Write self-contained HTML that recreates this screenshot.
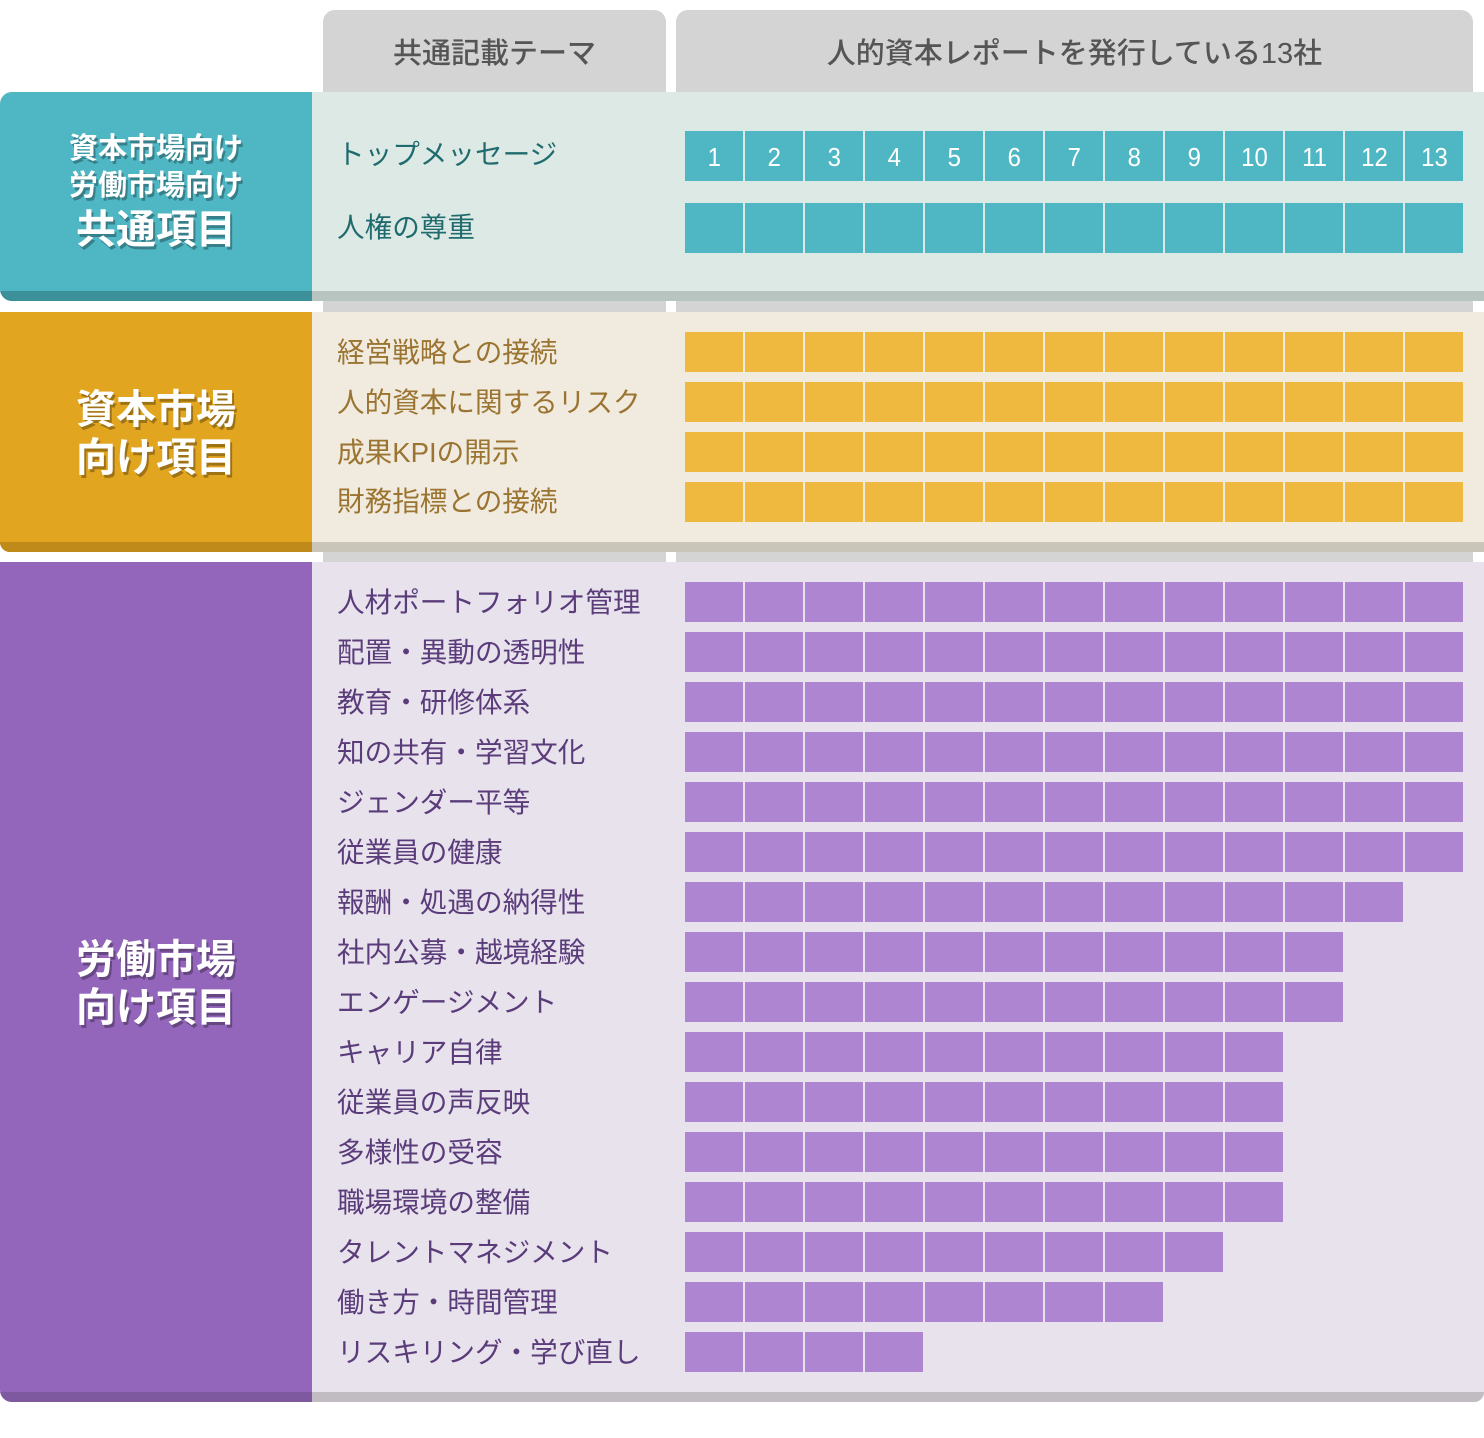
<!DOCTYPE html>
<html><head><meta charset="utf-8"><style>
*{margin:0;padding:0;box-sizing:border-box}
body{width:1484px;height:1438px;background:#fff;position:relative;overflow:hidden;font-family:"Liberation Sans","Noto Sans CJK JP",sans-serif}
.a{position:absolute}
.hd{background:#d4d4d4;border-radius:12px 12px 0 0;color:#555;font-size:29px;display:flex;align-items:center;justify-content:center;font-weight:500}
.strip{background:#d4d4d4}
.lab{position:absolute;left:337px;font-size:27.6px;line-height:40px;white-space:nowrap}
.bar{position:absolute;left:685px;height:40px}
.big{color:#fff;font-weight:bold;text-align:center;text-shadow:2px 3px 0 rgba(0,0,0,0.3);position:absolute;left:0;width:312px}
.num{position:absolute;width:58px;height:50px;top:131px;background:#4fb7c4;color:#fff;font-size:26px;text-align:center;line-height:52px;transform:scaleX(1)}
.num span{display:inline-block;transform:scaleX(0.92)}
</style></head><body>
<div class="a hd" style="left:323px;top:10px;width:343px;height:82px">共通記載テーマ</div>
<div class="a hd" style="left:676px;top:10px;width:797px;height:82px">人的資本レポートを発行している13社</div>
<div class="a strip" style="left:323px;top:300px;width:343px;height:12px"></div>
<div class="a strip" style="left:676px;top:300px;width:797px;height:12px"></div>
<div class="a strip" style="left:323px;top:552px;width:343px;height:10px"></div>
<div class="a strip" style="left:676px;top:552px;width:797px;height:10px"></div>

<div class="a" style="left:0;top:92px;width:1484px;height:209px;background:#dde9e5;border-radius:12px 0 0 12px;overflow:hidden">
 <div class="a" style="left:0;top:0;width:312px;height:209px;background:#4fb7c4"></div>
 <div class="a" style="left:0;top:199px;width:312px;height:10px;background:#3c9099"></div>
 <div class="a" style="left:312px;top:199px;width:1172px;height:10px;background:#b8c4bf"></div>
</div>
<div class="big" style="top:131px;font-size:29px;line-height:37px">資本市場向け<br>労働市場向け</div>
<div class="big" style="top:205px;font-size:40px;line-height:50px">共通項目</div>
<div class="lab" style="top:135px;color:#1f6b6e">トップメッセージ</div>
<div class="lab" style="top:208px;color:#1f6b6e">人権の尊重</div>
<div class="num" style="left:685px"><span>1</span></div><div class="num" style="left:745px"><span>2</span></div><div class="num" style="left:805px"><span>3</span></div><div class="num" style="left:865px"><span>4</span></div><div class="num" style="left:925px"><span>5</span></div><div class="num" style="left:985px"><span>6</span></div><div class="num" style="left:1045px"><span>7</span></div><div class="num" style="left:1105px"><span>8</span></div><div class="num" style="left:1165px"><span>9</span></div><div class="num" style="left:1225px"><span>10</span></div><div class="num" style="left:1285px"><span>11</span></div><div class="num" style="left:1345px"><span>12</span></div><div class="num" style="left:1405px"><span>13</span></div>
<div class="bar" style="top:203px;height:50px;width:778px;background:repeating-linear-gradient(90deg,#4fb7c4 0 58px,#dde9e5 58px 60px)"></div>

<div class="a" style="left:0;top:312px;width:1484px;height:240px;background:#f1ebdf;border-radius:0 0 0 10px;overflow:hidden">
 <div class="a" style="left:0;top:0;width:312px;height:240px;background:#e2a520"></div>
 <div class="a" style="left:0;top:230px;width:312px;height:10px;background:#c08a1a"></div>
 <div class="a" style="left:312px;top:230px;width:1172px;height:10px;background:#cac5b9"></div>
</div>
<div class="big" style="top:386px;font-size:40px;line-height:48px">資本市場<br>向け項目</div>
<div class="lab" style="top:333px;color:#9a7430">経営戦略との接続</div>
<div class="lab" style="top:383px;color:#9a7430">人的資本に関するリスク</div>
<div class="lab" style="top:433px;color:#9a7430">成果KPIの開示</div>
<div class="lab" style="top:482px;color:#9a7430">財務指標との接続</div>
<div class="bar" style="top:332px;width:778px;background:repeating-linear-gradient(90deg,#efb940 0 58px,#f1ebdf 58px 60px)"></div>
<div class="bar" style="top:382px;width:778px;background:repeating-linear-gradient(90deg,#efb940 0 58px,#f1ebdf 58px 60px)"></div>
<div class="bar" style="top:432px;width:778px;background:repeating-linear-gradient(90deg,#efb940 0 58px,#f1ebdf 58px 60px)"></div>
<div class="bar" style="top:482px;width:778px;background:repeating-linear-gradient(90deg,#efb940 0 58px,#f1ebdf 58px 60px)"></div>

<div class="a" style="left:0;top:562px;width:1484px;height:840px;background:#e8e2ed;border-radius:0 0 10px 12px;overflow:hidden">
 <div class="a" style="left:0;top:0;width:312px;height:840px;background:#9366bb"></div>
 <div class="a" style="left:0;top:830px;width:312px;height:10px;background:#7f59a0"></div>
 <div class="a" style="left:312px;top:830px;width:1172px;height:10px;background:#c0bcc2"></div>
</div>
<div class="big" style="top:936px;font-size:40px;line-height:48px">労働市場<br>向け項目</div>
<div style="color:#5a3c7a">
<div class="lab" style="top:583px">人材ポートフォリオ管理</div>
<div class="lab" style="top:633px">配置・異動の透明性</div>
<div class="lab" style="top:683px">教育・研修体系</div>
<div class="lab" style="top:733px">知の共有・学習文化</div>
<div class="lab" style="top:783px">ジェンダー平等</div>
<div class="lab" style="top:833px">従業員の健康</div>
<div class="lab" style="top:883px">報酬・処遇の納得性</div>
<div class="lab" style="top:933px">社内公募・越境経験</div>
<div class="lab" style="top:983px">エンゲージメント</div>
<div class="lab" style="top:1033px">キャリア自律</div>
<div class="lab" style="top:1083px">従業員の声反映</div>
<div class="lab" style="top:1133px">多様性の受容</div>
<div class="lab" style="top:1183px">職場環境の整備</div>
<div class="lab" style="top:1233px">タレントマネジメント</div>
<div class="lab" style="top:1283px">働き方・時間管理</div>
<div class="lab" style="top:1333px">リスキリング・学び直し</div>
</div>
<div class="bar" style="top:582px;width:778px;background:repeating-linear-gradient(90deg,#ad85d1 0 58px,#e8e2ed 58px 60px)"></div>
<div class="bar" style="top:632px;width:778px;background:repeating-linear-gradient(90deg,#ad85d1 0 58px,#e8e2ed 58px 60px)"></div>
<div class="bar" style="top:682px;width:778px;background:repeating-linear-gradient(90deg,#ad85d1 0 58px,#e8e2ed 58px 60px)"></div>
<div class="bar" style="top:732px;width:778px;background:repeating-linear-gradient(90deg,#ad85d1 0 58px,#e8e2ed 58px 60px)"></div>
<div class="bar" style="top:782px;width:778px;background:repeating-linear-gradient(90deg,#ad85d1 0 58px,#e8e2ed 58px 60px)"></div>
<div class="bar" style="top:832px;width:778px;background:repeating-linear-gradient(90deg,#ad85d1 0 58px,#e8e2ed 58px 60px)"></div>
<div class="bar" style="top:882px;width:718px;background:repeating-linear-gradient(90deg,#ad85d1 0 58px,#e8e2ed 58px 60px)"></div>
<div class="bar" style="top:932px;width:658px;background:repeating-linear-gradient(90deg,#ad85d1 0 58px,#e8e2ed 58px 60px)"></div>
<div class="bar" style="top:982px;width:658px;background:repeating-linear-gradient(90deg,#ad85d1 0 58px,#e8e2ed 58px 60px)"></div>
<div class="bar" style="top:1032px;width:598px;background:repeating-linear-gradient(90deg,#ad85d1 0 58px,#e8e2ed 58px 60px)"></div>
<div class="bar" style="top:1082px;width:598px;background:repeating-linear-gradient(90deg,#ad85d1 0 58px,#e8e2ed 58px 60px)"></div>
<div class="bar" style="top:1132px;width:598px;background:repeating-linear-gradient(90deg,#ad85d1 0 58px,#e8e2ed 58px 60px)"></div>
<div class="bar" style="top:1182px;width:598px;background:repeating-linear-gradient(90deg,#ad85d1 0 58px,#e8e2ed 58px 60px)"></div>
<div class="bar" style="top:1232px;width:538px;background:repeating-linear-gradient(90deg,#ad85d1 0 58px,#e8e2ed 58px 60px)"></div>
<div class="bar" style="top:1282px;width:478px;background:repeating-linear-gradient(90deg,#ad85d1 0 58px,#e8e2ed 58px 60px)"></div>
<div class="bar" style="top:1332px;width:238px;background:repeating-linear-gradient(90deg,#ad85d1 0 58px,#e8e2ed 58px 60px)"></div>
</body></html>
